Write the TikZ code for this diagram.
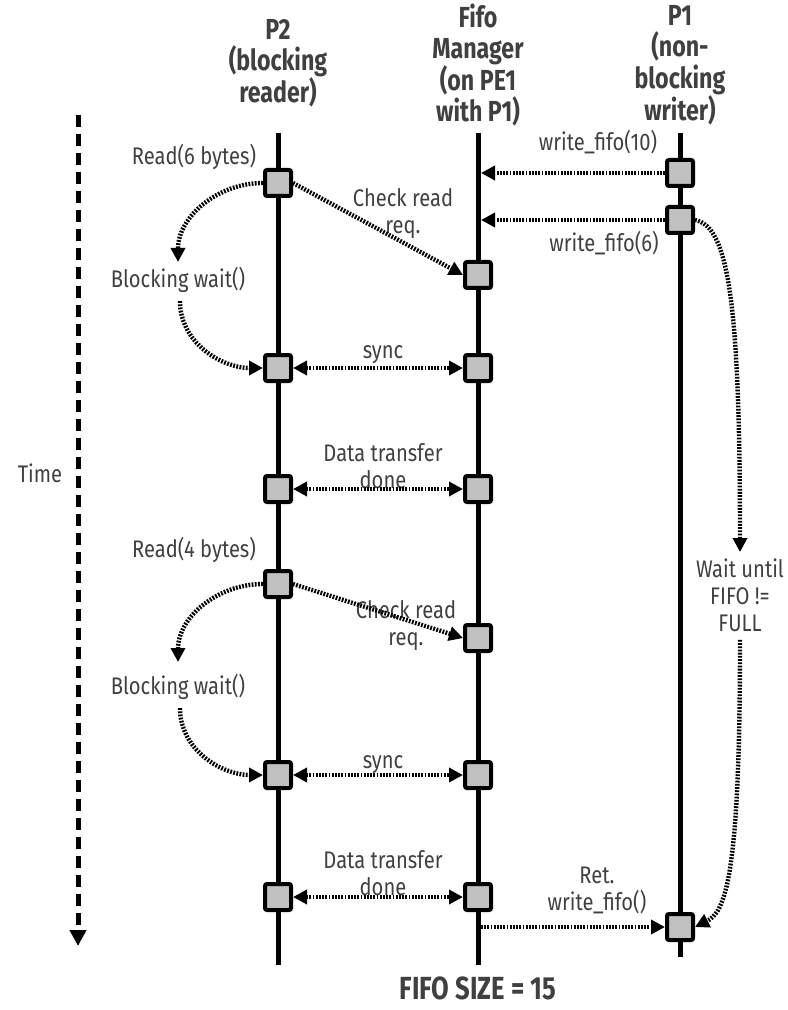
\documentclass[tikz,border=0pt]{standalone}
\usepackage{fontspec}
\setmainfont{Fira Sans}[FakeStretch=0.8]
\newfontfamily\labfont{Fira Sans}[FakeStretch=0.84]
\usepackage{tikz}
\usepackage{xcolor}
\usetikzlibrary{arrows.meta, positioning}
\definecolor{txtgray}{RGB}{64,64,64}
\definecolor{boxgray}{RGB}{192,192,192}

\begin{document}
\begin{tikzpicture}[x=0.5pt, y=-0.5pt,
    head/.style={font=\bfseries\fontsize{14.5}{15.8}\selectfont, text=txtgray, align=center, inner sep=0pt},
    lab/.style={font=\labfont\fontsize{12}{13.5}\selectfont, text=txtgray, align=center, inner sep=0pt},
    life/.style={line width=2.5pt, draw=black},
    evt/.style={draw=black, fill=boxgray, line width=2pt, rounded corners=1pt,
                minimum size=13pt, inner sep=0pt},
    msg/.style={-{Triangle[length=7pt,width=7pt]}, line width=2.2pt,
                dash pattern=on 0.9pt off 0.7pt},
    both/.style={msg, {Triangle[length=7pt,width=7pt]}-{Triangle[length=7pt,width=7pt]}},
    timeline/.style={-{Triangle[length=8pt,width=8pt]}, line width=2.5pt,
                dash pattern=on 6pt off 3.5pt}]

    \useasboundingbox (0,0) rectangle (787,1010);

    % Headers
    \node[head] (hp2) at (278,63)  {P2\\(blocking\\reader)};
    \node[head] (hfm) at (478,65)  {Fifo\\Manager\\(on PE1\\with P1)};
    \node[head] (hp1) at (680,65)  {P1\\(non-\\blocking\\writer)};

    % Lifelines
    \draw[life] (278,133) -- (278,965);
    \draw[life] (478,133) -- (478,965);
    \draw[life] (680,133) -- (680,957);

    % Time axis
    \node[lab] (time) at (40,473) {Time};
    \coordinate (t0) at (78,115);
    \coordinate (t1) at (78,946);
    \draw[timeline] (t0) -- (t1);

    % Events on P2
    \node[evt] (p2a) at (278,183) {};
    \node[evt] (p2b) at (278,368) {};
    \node[evt] (p2c) at (278,489) {};
    \node[evt] (p2d) at (278,584) {};
    \node[evt] (p2e) at (278,775) {};
    \node[evt] (p2f) at (278,897) {};

    % Events on Fifo manager
    \node[evt] (fma) at (478,275) {};
    \node[evt] (fmb) at (478,368) {};
    \node[evt] (fmc) at (478,489) {};
    \node[evt] (fmd) at (478,638) {};
    \node[evt] (fme) at (478,775) {};
    \node[evt] (fmf) at (478,897) {};

    % Events on P1
    \node[evt] (p1a) at (680,173) {};
    \node[evt] (p1b) at (680,220) {};
    \node[evt] (p1c) at (680,927) {};

    % Writes from P1
    \coordinate (fmw1) at (481,173);
    \coordinate (fmw2) at (481,220);
    \coordinate (fmw3) at (481,927);
    \node[lab] (wf10) at (598,142) {write\_fifo(10)};
    \node[lab] (wf6)  at (604,243) {write\_fifo(6)};
    \draw[msg] (p1a.west) -- (fmw1);
    \draw[msg] (p1b.west) -- (fmw2);

    % First read
    \node[lab] (rd6) at (194,157) {Read(6 bytes)};
    \node[lab] (chk1) at (403,214) {Check read\\req.};
    \draw[msg] (p2a.east) -- (fma.west);
    \coordinate (bw1top) at (178,262);
    \node[lab] (bw1) at (178,280) {Blocking wait()};
    \draw[msg] (p2a.west) to[out=180,in=90] (bw1top);
    \draw[msg] (bw1.south) ++(2,8) to[out=-90,in=180] (p2b.west);
    \node[lab] (sync1) at (383,355) {sync};
    \draw[both] (p2b.east) -- (fmb.west);
    \node[lab] (dtd1) at (383,466) {Data transfer\\done};
    \draw[both] (p2c.east) -- (fmc.west);

    % Second read
    \node[lab] (rd4) at (194,550) {Read(4 bytes)};
    \node[lab] (chk2) at (406,626) {Check read\\req.};
    \draw[msg] (p2d.east) -- (fmd.west);
    \coordinate (bw2top) at (178,662);
    \node[lab] (bw2) at (178,687) {Blocking wait()};
    \draw[msg] (p2d.west) to[out=180,in=90] (bw2top);
    \draw[msg] (bw2.south) ++(2,8) to[out=-90,in=180] (p2e.west);
    \node[lab] (sync2) at (383,765) {sync};
    \draw[both] (p2e.east) -- (fme.west);
    \node[lab] (dtd2) at (383,873) {Data transfer\\done};
    \draw[both] (p2f.east) -- (fmf.west);

    % P1 waits while the fifo is full
    \node[lab] (wait) at (740,595) {Wait until\\FIFO !=\\FULL};
    \coordinate (waittop) at (740,552);
    \draw[msg] (p1b.east) .. controls (728,226) and (740,300) .. (waittop);
    \draw[msg] (wait.south) ++(0,8) .. controls (740,880) and (725,912) .. (p1c.east);
    \node[lab] (ret) at (597,890) {Ret.\\write\_fifo()};
    \draw[msg] (fmw3) -- (p1c.west);

    \node[head, font=\bfseries\fontsize{16}{18}\selectfont] (size) at (478,988) {FIFO SIZE = 15};
\end{tikzpicture}
\end{document}
